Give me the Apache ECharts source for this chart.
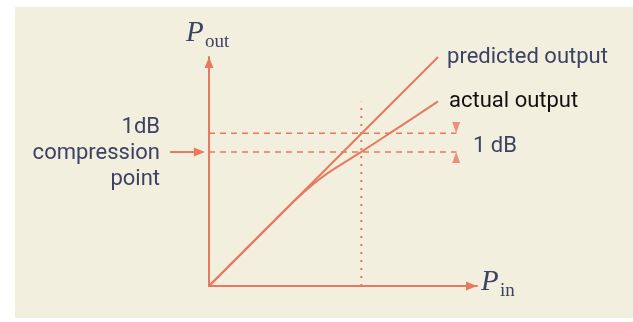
<!DOCTYPE html>
<html>
<head>
<meta charset="utf-8">
<script src="https://cdn.jsdelivr.net/npm/echarts@6/dist/echarts.min.js"></script>
<style>
  body { margin: 0; background: #fff; }
  #panel { position: absolute; left: 15px; top: 7px; width: 618px; height: 311px; background: #f3efde; }
  #chart { position: absolute; left: 0; top: 0; width: 633px; height: 322px; }
</style>
</head>
<body>
<div id="panel"></div>
<div id="chart"></div>
<script>
// input power (arbitrary units) and the two output curves
const predictedIn = [0, 10]
const predictedOut = [0, 10]
const actualIn = [0, 3, 3.4, 3.8, 4.2, 4.6, 5.0, 5.6, 6.65, 8, 10]
const actualOut = [0, 3, 3.4, 3.79, 4.15, 4.49, 4.8, 5.2, 5.86, 6.74, 8.06]

// 1 dB compression point
const compIn = 6.65
const compPredicted = 6.67
const compActual = 5.85
const compTop = 8.05
const dashEnd = 10.8
const markerX = 10.79
const markerDown = 6.92
const markerUp = 5.61
const arrowFrom = -1.7
const arrowTo = -0.18

const lineColor = '#e8795f'
const textColor = '#3c4263'
const font = 'Roboto'

const pairs = (xs, ys) => xs.map((x, i) => [x, ys[i]])

const chart = echarts.init(document.getElementById('chart'))
chart.setOption({
    animation: false,
    backgroundColor: 'transparent',
    grid: {left: 209, top: 57, width: 268, height: 229},
    xAxis: {
        type: 'value', min: 0, max: 11.7,
        axisLine: {show: true, symbol: ['none', 'triangle'], symbolSize: [9, 11], symbolOffset: [0, -5.5],
            lineStyle: {color: lineColor, width: 2}},
        axisTick: {show: false}, axisLabel: {show: false}, splitLine: {show: false}
    },
    yAxis: {
        type: 'value', min: 0, max: 10,
        axisLine: {show: true, symbol: ['none', 'triangle'], symbolSize: [9, 11], symbolOffset: [0, -5.5],
            lineStyle: {color: lineColor, width: 2}},
        axisTick: {show: false}, axisLabel: {show: false}, splitLine: {show: false}
    },
    series: [
        {
            type: 'line', data: pairs(predictedIn, predictedOut), symbol: 'none', clip: false,
            lineStyle: {color: lineColor, width: 2},
            endLabel: {show: true, formatter: 'predicted output', distance: 9, color: textColor, fontFamily: font, fontSize: 22}
        },
        {
            type: 'line', data: pairs(actualIn, actualOut), symbol: 'none', smooth: 0.3, clip: false,
            lineStyle: {color: lineColor, width: 2},
            endLabel: {show: true, formatter: 'actual output', distance: 11, color: '#111', fontFamily: font, fontSize: 22}
        },
        {
            type: 'line', data: [[0, compPredicted], [dashEnd, compPredicted]], symbol: 'none',
            lineStyle: {color: lineColor, width: 1.5, type: [6, 5]}
        },
        {
            type: 'line', data: [[0, compActual], [dashEnd, compActual]], symbol: 'none',
            lineStyle: {color: lineColor, width: 1.5, type: [6, 5]}
        },
        {
            type: 'line', data: [[compIn, 0], [compIn, compTop]], symbol: 'none',
            lineStyle: {color: lineColor, width: 2, type: [2, 6]}
        },
        {
            type: 'scatter', symbol: 'triangle', symbolSize: [8, 11], clip: false,
            itemStyle: {color: lineColor},
            data: [{value: [markerX, markerDown], symbolRotate: 180}, {value: [markerX, markerUp]}]
        }
    ]
})

// pointer arrow to the compression point, placed through the axes
const a = chart.convertToPixel({gridIndex: 0}, [arrowFrom, compActual])
const b = chart.convertToPixel({gridIndex: 0}, [arrowTo, compActual])
chart.setOption({
    graphic: [
        {type: 'text', left: 186, top: 19, style: {text: 'P', font: 'italic 29px "Liberation Serif"', fill: textColor}},
        {type: 'text', left: 205, top: 33, style: {text: 'out', font: '19px "Liberation Serif"', fill: textColor}},
        {type: 'text', left: 481, top: 268, style: {text: 'P', font: 'italic 29px "Liberation Serif"', fill: textColor}},
        {type: 'text', left: 500, top: 282, style: {text: 'in', font: '19px "Liberation Serif"', fill: textColor}},
        {type: 'text', x: 160, y: 114, style: {text: '1dB\ncompression\npoint', align: 'right', verticalAlign: 'top',
            lineHeight: 26, font: '22px ' + font, fill: textColor}},
        {type: 'text', x: 473, y: 146, style: {text: '1 dB', verticalAlign: 'middle', font: '22px ' + font, fill: textColor}},
        {type: 'line', shape: {x1: a[0], y1: a[1], x2: b[0] - 8, y2: b[1]}, style: {stroke: lineColor, lineWidth: 2}},
        {type: 'polygon', shape: {points: [[b[0], b[1]], [b[0] - 11, b[1] - 4.5], [b[0] - 11, b[1] + 4.5]]}, style: {fill: lineColor}}
    ]
})
</script>
</body>
</html>
